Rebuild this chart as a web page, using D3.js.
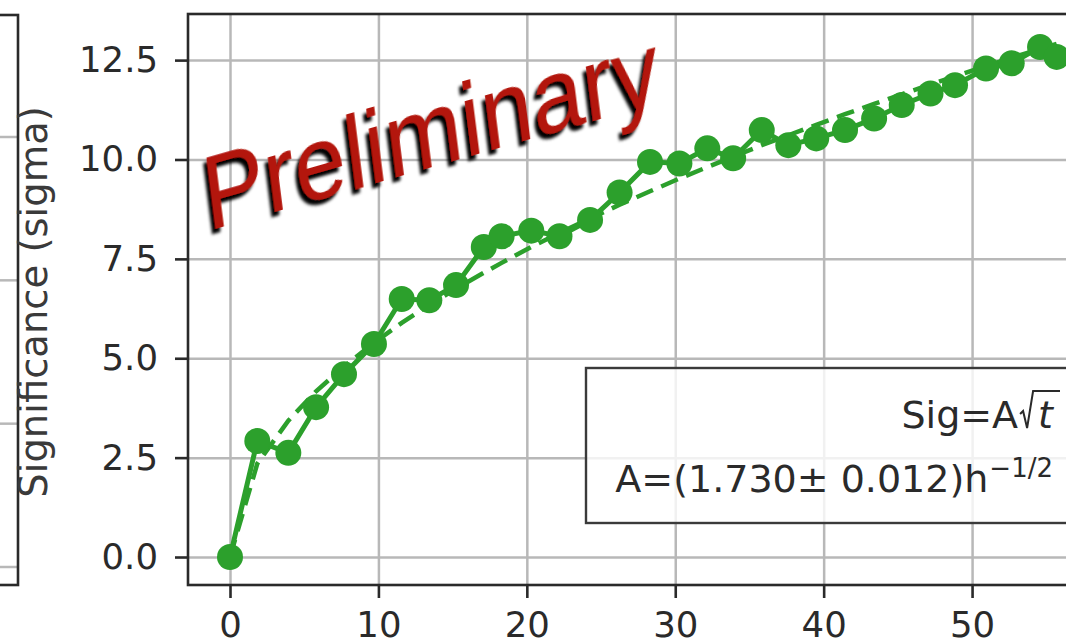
<!DOCTYPE html>
<html>
<head>
<meta charset="utf-8">
<script src="https://cdn.jsdelivr.net/npm/d3@7"></script>
<style>
body { margin: 0; background: white; }
svg { display: block; }
</style>
</head>
<body>
<svg id="chart" width="1066" height="643"></svg>
<script>
let times = [0, 1.84, 3.93, 5.8, 7.68, 9.7, 11.57, 13.43, 15.23, 17.1, 18.3, 20.3, 22.2, 24.26, 26.25, 28.3, 30.28, 32.16, 33.9, 35.83, 37.62, 39.5, 41.44, 43.4, 45.26, 47.2, 48.85, 50.94, 52.67, 54.58, 55.7]
let sigma = [0, 2.92, 2.62, 3.77, 4.6, 5.36, 6.49, 6.46, 6.84, 7.8, 8.07, 8.21, 8.07, 8.48, 9.17, 9.94, 9.9, 10.28, 10.03, 10.74, 10.36, 10.53, 10.74, 11.03, 11.37, 11.66, 11.87, 12.29, 12.42, 12.83, 12.58]
// dashed fit curve (Sig = A sqrt(t)) as read at the same times
let fitSigma = [0, 2.35, 3.43, 4.17, 4.79, 5.39, 5.89, 6.34, 6.75, 7.15, 7.40, 7.80, 8.15, 8.52, 8.86, 9.20, 9.52, 9.81, 10.07, 10.36, 10.61, 10.87, 11.14, 11.40, 11.64, 11.89, 12.09, 12.35, 12.56, 12.78, 12.91]

let xTicks = [0, 10, 20, 30, 40, 50]
let yTicks = [0, 2.5, 5, 7.5, 10, 12.5]
let leftPanelTicks = [0, 1, 2, 3]

let legendLine1 = 'Sig=A'
let legendLine1b = 't'
let legendLine2 = 'A=(1.730\u00b1 0.012)h'
let legendSup = '\u22121/2'
let ylabel = 'Significance (sigma)'
let watermark = 'Preliminary'

let green = '#2ca02c'
let ink = '#2a2a2a'
let gridColor = '#b8b8b8'

let svg = d3.select('#chart')

svg.append('rect').attr('width', 1066).attr('height', 643).attr('fill', 'white')

let defs = svg.append('defs')
defs.append('filter')
.attr('id', 'shadow')
.attr('x', '-10%').attr('y', '-40%').attr('width', '120%').attr('height', '180%')
.append('feDropShadow')
.attr('dx', -4).attr('dy', 4)
.attr('stdDeviation', 1.4)
.attr('flood-color', '#000')
.attr('flood-opacity', 1)

let pLeft = 188, pTop = 14, pBottom = 585, pRight = 1119

let x = d3.scaleLinear()
.domain([-2.83, 59.9])
.range([pLeft, pRight])

let y = d3.scaleLinear()
.domain([-0.704, 13.66])
.range([pBottom, pTop])

// ---- partial neighbour panel on the far left
let yLeft = d3.scaleLinear()
.domain([0, 3])
.range([567, 137])

svg.append('g')
.selectAll('line')
.data(leftPanelTicks)
.join('line')
.attr('x1', 0).attr('x2', 18)
.attr('y1', d => yLeft(d)).attr('y2', d => yLeft(d))
.attr('stroke', gridColor)
.attr('stroke-width', 2.5)

svg.append('rect')
.attr('x', -10).attr('y', 15)
.attr('width', 28).attr('height', 570)
.attr('fill', 'none')
.attr('stroke', ink)
.attr('stroke-width', 2.6)

// ---- grid
svg.append('g')
.attr('transform', `translate(0,${pBottom})`)
.call(d3.axisBottom(x).tickValues(xTicks).tickSize(-(pBottom - pTop)).tickFormat(''))
.call(g => g.select('.domain').remove())
.selectAll('line')
.attr('stroke', gridColor)
.attr('stroke-width', 2.5)

svg.append('g')
.attr('transform', `translate(${pLeft},0)`)
.call(d3.axisLeft(y).tickValues(yTicks).tickSize(-(pRight - pLeft)).tickFormat(''))
.call(g => g.select('.domain').remove())
.selectAll('line')
.attr('stroke', gridColor)
.attr('stroke-width', 2.5)

// ---- fit (dashed) and data
let seriesLine = d3.line()
.x((d, i) => x(times[i]))
.y(d => y(d))

svg.append('path')
.datum(fitSigma)
.attr('d', seriesLine)
.attr('fill', 'none')
.attr('stroke', green)
.attr('stroke-width', 4.5)
.attr('stroke-dasharray', '18,9')

svg.append('path')
.datum(sigma)
.attr('d', seriesLine)
.attr('fill', 'none')
.attr('stroke', green)
.attr('stroke-width', 5)

svg.append('g')
.selectAll('circle')
.data(sigma)
.join('circle')
.attr('cx', (d, i) => x(times[i]))
.attr('cy', d => y(d))
.attr('r', 13)
.attr('fill', green)

// ---- watermark
let wm = svg.append('g')
.attr('transform', 'translate(208,231) scale(1,1.08) rotate(-14.8) skewX(-7)')

wm.append('text')
.attr('x', 0).attr('y', 0)
.attr('font-family', 'Liberation Sans, Arial, sans-serif')
.attr('font-size', 96)
.attr('textLength', 470)
.attr('lengthAdjust', 'spacingAndGlyphs')
.attr('fill', '#b3160a')
.attr('filter', 'url(#shadow)')
.text(watermark)

// ---- legend box (handles sit off the right edge)
svg.append('rect')
.attr('x', 586).attr('y', 368)
.attr('width', 500).attr('height', 155)
.attr('fill', 'white')
.attr('fill-opacity', 0.8)
.attr('stroke', '#3a3a3a')
.attr('stroke-width', 2.4)

let legendEnd = 1053
let fontLeg = 38

let tText = svg.append('text')
.attr('x', legendEnd).attr('y', 428)
.attr('text-anchor', 'end')
.attr('font-family', 'DejaVu Sans')
.attr('font-style', 'italic')
.attr('font-size', fontLeg)
.attr('fill', ink)
.text(legendLine1b)

let tStart = legendEnd - tText.node().getComputedTextLength()
let rx = tStart - 5

svg.append('path')
.attr('d', `M${rx - 13},414 L${rx - 10},411 L${rx - 6},428 L${rx},391 L1060,391`)
.attr('fill', 'none')
.attr('stroke', ink)
.attr('stroke-width', 2)

svg.append('text')
.attr('x', rx - 15).attr('y', 428)
.attr('text-anchor', 'end')
.attr('font-family', 'DejaVu Sans')
.attr('font-size', fontLeg)
.attr('fill', ink)
.text(legendLine1)

let sup = svg.append('text')
.attr('x', legendEnd).attr('y', 477)
.attr('text-anchor', 'end')
.attr('font-family', 'DejaVu Sans')
.attr('font-size', 26)
.attr('fill', ink)
.text(legendSup)

let supW = sup.node().getComputedTextLength()

svg.append('text')
.attr('x', legendEnd - supW - 1).attr('y', 492)
.attr('text-anchor', 'end')
.attr('font-family', 'DejaVu Sans')
.attr('font-size', fontLeg)
.attr('fill', ink)
.text(legendLine2)

// ---- axes
let yAxis = svg.append('g')
.attr('transform', `translate(${pLeft},0)`)
.call(d3.axisLeft(y).tickValues(yTicks).tickSize(13).tickPadding(17).tickFormat(d3.format('.1f')))

let xAxis = svg.append('g')
.attr('transform', `translate(0,${pBottom})`)
.call(d3.axisBottom(x).tickValues(xTicks).tickSize(13).tickPadding(14).tickFormat(d3.format('d')))

;[xAxis, yAxis].forEach(g => {
  g.select('.domain').remove()
  g.selectAll('line').attr('stroke', ink).attr('stroke-width', 2.6)
  g.selectAll('text')
  .attr('font-family', 'DejaVu Sans')
  .attr('font-size', 35.5)
  .attr('fill', ink)
})

// axes frame
svg.append('rect')
.attr('x', pLeft).attr('y', pTop)
.attr('width', pRight - pLeft).attr('height', pBottom - pTop)
.attr('fill', 'none')
.attr('stroke', ink)
.attr('stroke-width', 2.6)

// ---- y label
svg.append('text')
.attr('transform', 'translate(47,302) rotate(-90)')
.attr('text-anchor', 'middle')
.attr('font-family', 'DejaVu Sans')
.attr('font-size', 38.5)
.attr('fill', '#3a3a3a')
.text(ylabel)
</script>
</body>
</html>
